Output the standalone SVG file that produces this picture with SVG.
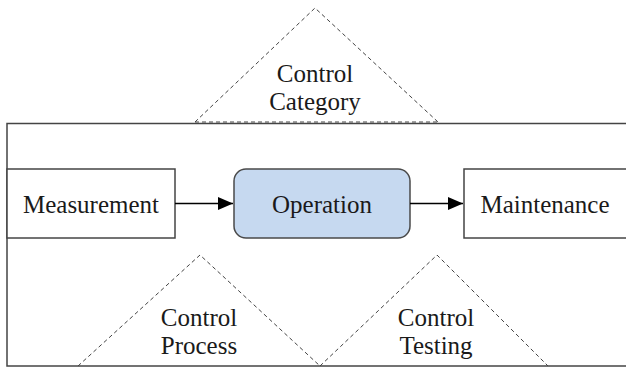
<svg xmlns="http://www.w3.org/2000/svg" width="626" height="369" viewBox="0 0 626 369">
  <defs>
    <style>
      .txt { font-size: 25px; fill: #1a1a1a; text-anchor: middle; }
      .box { fill: #ffffff; stroke: #444444; stroke-width: 1.5; }
      .op { fill: #c6d9f0; stroke: #4a4a4a; stroke-width: 1.5; }
      .tri { fill: none; stroke: #444444; stroke-width: 1; stroke-dasharray: 4 3; }
      .edge { fill: none; stroke: #000000; stroke-width: 1.5; }
    </style>
    <marker id="arrow" markerWidth="15" markerHeight="13" refX="15" refY="6.5" orient="auto" markerUnits="userSpaceOnUse">
      <path d="M0,0 L15,6.5 L0,13 Z" fill="#000000"/>
    </marker>
  </defs>
  <rect width="626" height="369" fill="#ffffff"/>

  <g id="frame">
    <rect x="7" y="123.5" width="640" height="242.5" fill="none" stroke="#444444" stroke-width="1.5"/>
  </g>

  <g font-family="'Liberation Serif', 'Times New Roman', Times, serif">
  <g id="control-category">
    <polyline class="tri" points="195,122 315,8 438,122"/>
    <line class="tri" x1="195" y1="122" x2="438" y2="122" stroke-width="1.5"/>
    <text class="txt" x="315" y="82">Control</text>
    <text class="txt" x="315" y="110">Category</text>
  </g>

  <g id="control-process">
    <polyline class="tri" points="78,366 200,255 320,366"/>
    <text class="txt" x="199" y="326">Control</text>
    <text class="txt" x="199" y="354">Process</text>
  </g>

  <g id="control-testing">
    <polyline class="tri" points="320,366 437,255 548,366"/>
    <text class="txt" x="436" y="326">Control</text>
    <text class="txt" x="436" y="354">Testing</text>
  </g>

  <g id="measurement">
    <rect class="box" x="7" y="169" width="168" height="69"/>
    <text class="txt" x="91" y="213">Measurement</text>
  </g>

  <g id="operation">
    <rect class="op" x="234" y="169" width="176" height="69" rx="12" ry="12"/>
    <text class="txt" x="322" y="213">Operation</text>
  </g>

  <g id="maintenance">
    <rect class="box" x="464" y="169" width="200" height="69"/>
    <text class="txt" x="545" y="213">Maintenance</text>
  </g>
  </g>

  <g id="connectors">
    <line class="edge" x1="175" y1="203.5" x2="233" y2="203.5" marker-end="url(#arrow)"/>
    <line class="edge" x1="410" y1="203.5" x2="463" y2="203.5" marker-end="url(#arrow)"/>
  </g>
</svg>
